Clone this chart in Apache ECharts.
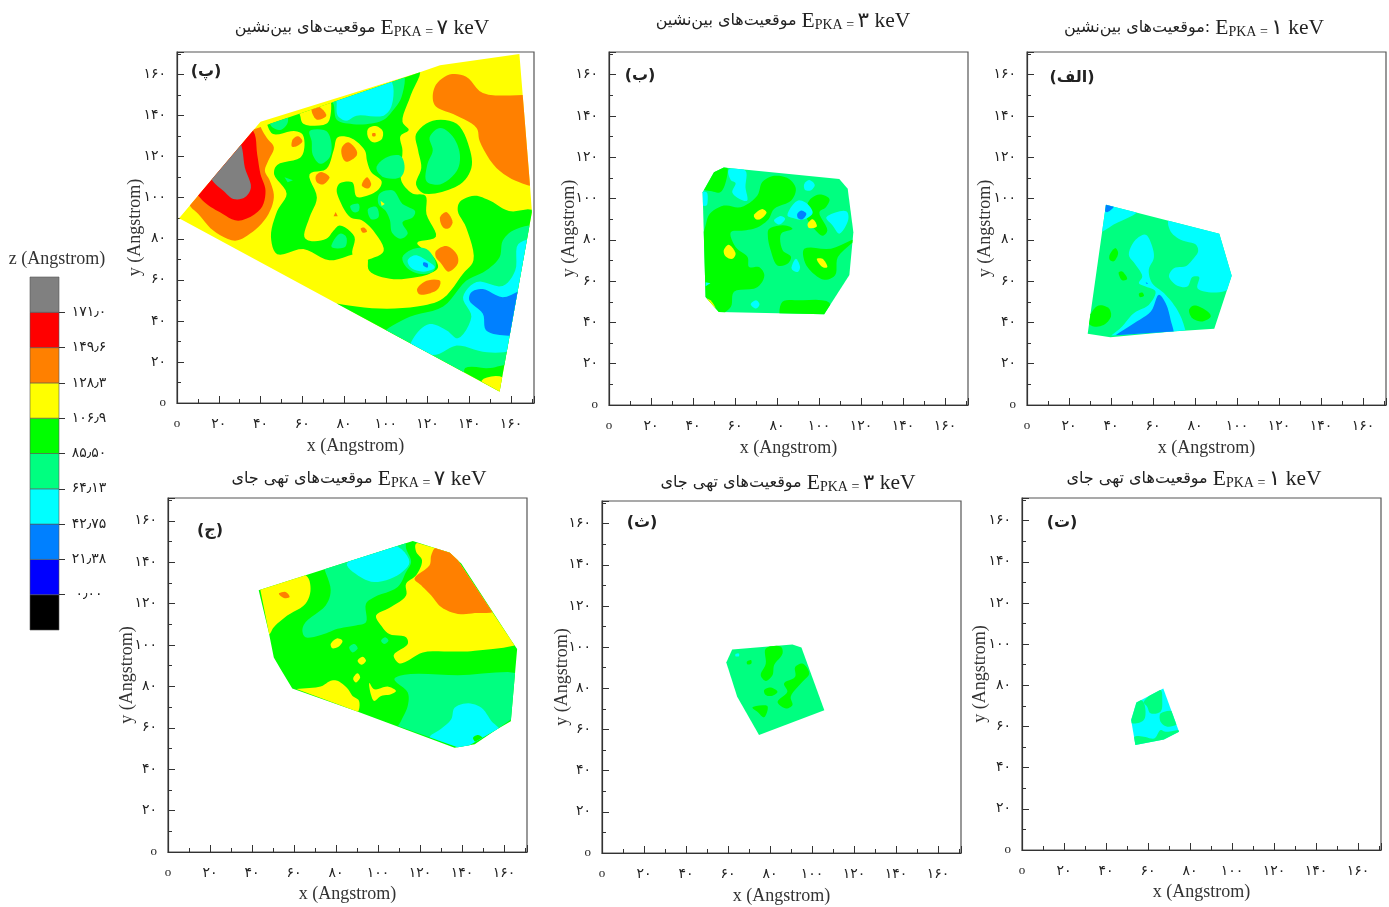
<!DOCTYPE html>
<html><head><meta charset="utf-8">
<style>html,body{margin:0;padding:0;background:#fff}#c{width:1389px;height:907px}</style>
<script src="https://cdn.jsdelivr.net/npm/echarts@6/dist/echarts.min.js"></script>
</head><body><div id="c"></div>
<script>
// ---------- value scale and labels ----------
const levelNames = ['black','blue','azure','cyan','spring','green','yellow','orange','red','gray'];
const levelColors = ['#000000','#0000ff','#0080ff','#00ffff','#00ff80','#00ff00','#ffff00','#ff8000','#ff0000','#808080'];
const zValues = [0,21.375,42.75,64.125,85.5,106.875,128.25,149.625,171];
const zTicks = ['۰٫۰۰','۲۱٫۳۸','۴۲٫۷۵','۶۴٫۱۳','۸۵٫۵۰','۱۰۶٫۹','۱۲۸٫۳','۱۴۹٫۶','۱۷۱٫۰'];
const axisTicks = ['o','۲۰','۴۰','۶۰','۸۰','۱۰۰','۱۲۰','۱۴۰','۱۶۰'];
const interstitial = 'موقعیت‌های بین‌نشین';
const vacancy = 'موقعیت‌های تهی جای';

// ---------- panel (پ) 7 keV interstitials ----------
const hullP = [[1,90],[40,137],[116,161],[126,164.5],[164,170],[169,107],[170,93],[154.5,5.5],[76.5,48.5]];
const regionsP = [
 ['orange',[[39.7,135.8],[42.9,129.3],[46.4,124.5],[43.7,118],[42.1,113.1],[44.5,108.2],[46.4,100.2],[42.9,90.5],[34.9,82.4],[27.8,79.1],[17.4,84],[10.2,92.1],[6.2,96.1],[-0.2,111.5],[28.5,147],[39.7,143.9]]],
 ['red',[[36.5,132.5],[38.4,121.2],[40,111.5],[42.4,103.4],[40,94.5],[29.3,88.8],[20.6,92.9],[14.2,96.9],[10.2,101],[4.6,108.3],[27,139]]],
 ['gray',[[30.9,125.2],[32.5,114.7],[35.4,105],[32.5,100.2],[27,99.4],[22.2,103.4],[17,108.3],[12.6,119.6],[27,134]]],
 ['green',[[43,139],[116,162.5],[112,150],[108,137],[111,133],[107,130],[108,123],[107,111.5],[108,107],[113,102],[119,101],[119.5,92],[124,81],[115,78],[123,71],[125,66],[121,63],[113,61],[102,60.5],[92,64.5],[91,71],[86,72.5],[73,69.5],[60.5,75],[48,72.5],[45,81],[48,93.5],[52.5,102],[46.5,111.5],[48,116],[59,119.5],[61,124.5],[60,131],[56,132.5],[46,131],[43,136.5]]],
 ['yellow',[[58,144.5],[72.5,149.5],[73.5,140],[71.5,136],[60.5,136],[59,140]]],
 ['yellow',[[77,129.5],[83.5,129],[90,123],[91,118],[93,112.5],[98,108],[96.5,104],[91,101],[86,100.5],[84,107.5],[78,107],[76.5,104],[78,98.5],[83,90.5],[88.5,89],[94,84],[99,74],[92,70],[87.5,69],[84,72.5],[85,81],[78,86.5],[75,84],[71.5,80],[63.5,79],[61,81],[63.5,90.5],[67,100],[63.5,111.5],[71.5,114],[75,123]]],
 ['spring',[[44.5,137],[52.5,140],[53,136.5],[49.5,133],[45.5,134.5]]],
 ['spring',[[73,149.5],[108,161],[107.5,149],[103,142],[99,138],[92,136],[83,136],[76.5,138],[75,145.5]]],
 ['cyan',[[77,149.5],[102,157.5],[103,145.5],[99,140],[86,140],[81,137.5],[77,140],[76.5,145.5]]],
 ['spring',[[63.5,132.5],[71.5,132.5],[74,126],[73,119.5],[68.5,116.5],[65,121],[64.5,127.5]]],
 ['spring',[[95.5,114.5],[100,119.5],[107,120.5],[109,114.5],[107,110],[99,110]]],
 ['green',[[114.5,131],[122.5,137.5],[134,136],[140,124.5],[141,114.5],[135.5,106.5],[118.5,102],[114.5,106.5],[117,114.5],[115.5,123]]],
 ['spring',[[121,129.5],[126,134],[132,130],[135.5,121],[134,113],[126,106.5],[119.5,108],[120,116.5],[122.5,123]]],
 ['yellow',[[91.5,133.5],[95,135],[98.5,132.5],[98,128.5],[94,127],[91.5,129.5]]],
 ['orange',[[93.6,131.4],[95,131.4],[95,130],[93.6,130]]],
 ['spring',[[97,102],[103.5,103.5],[108,97],[114,93.5],[113,90.5],[108,88],[110.5,82.5],[107,80],[103,83],[102,89],[100,93.5],[96.5,97]]],
 ['spring',[[83,96],[87,97],[87,93.5],[84.5,93]]],
 ['spring',[[91.5,94.5],[95.5,95.5],[96.5,90.5],[93,89.5]]],
 ['yellow',[[97.5,98.5],[99.5,97],[98,96]]],
 ['spring',[[74,76],[78,82.5],[81,81],[80.5,76]]],
 ['spring',[[51.5,110],[55.5,108.5],[53,107.5]]],
 ['orange',[[64.5,143],[67.5,144.5],[71.5,140],[67,138]]],
 ['orange',[[55.5,128.5],[58,130],[60,127.5],[57,125],[55,125]]],
 ['orange',[[79,124.5],[82,127],[86,123],[86,120.5],[81,117.5],[79,120.5]]],
 ['orange',[[66.5,110.5],[69,112.5],[73,110],[70,106.5],[67,107.5]]],
 ['orange',[[88.5,106],[91,110],[93,106.5],[91.5,104.5]]],
 ['orange',[[75,91],[76,93],[77,91]]],
 ['orange',[[88,85],[89.5,85.5],[91,83.5],[89,83]]],
 ['orange',[[126,90.5],[129,93],[132,88],[130,85],[127.5,85.5]]],
 ['orange',[[124,74],[129,76.5],[134,72.5],[134.5,68],[130,64],[126.5,68],[124,71]]],
 ['orange',[[115,55.5],[119.5,59.5],[126,59.5],[125,55.5],[119.5,53],[116,53]]],
 ['orange',[[122.5,148.5],[124,155],[130.5,160],[138.5,159],[146.5,151],[165.5,150],[172,150],[172,106.5],[164,107.5],[153,114.5],[145,127.5],[143.5,134],[134,140],[124,144.5]]],
 ['green',[[172,93],[159,93.5],[150,98.5],[142.5,101],[135.5,98],[134.5,93.5],[138.5,85.5],[142,69.5],[137,63],[127.5,51],[118,47.5],[97,46],[76.5,48.5],[71.5,50],[108,-2],[172,-2]]],
 ['yellow',[[146,11],[156,12.5],[158,3],[151,3]]],
 ['spring',[[172,85.5],[161,84],[156,79],[154.5,71],[148,64.5],[138.5,59.5],[127.5,47],[111.5,42],[100,35.5],[95.5,30.5],[137,11],[138,17],[150,17],[157,18.5],[172,18.5]]],
 ['cyan',[[172,79],[163.5,77.5],[162,64.5],[156,57],[143.5,59],[137,51.5],[141,42],[134.5,31.5],[129,35.5],[121,38.5],[114.5,33.5],[111.5,25.5],[124,23.5],[134,28],[146.5,25],[158.5,25],[172,30.5]]],
 ['azure',[[167,55],[156,51.5],[146.5,55.5],[141,54],[140,50],[146.5,43.5],[148,35.5],[156,33],[164,34]]],
 ['spring',[[108,71],[113,75],[119.5,75],[124,68],[122.5,64],[116,63],[110,66]]],
 ['cyan',[[110.5,69.5],[114,72],[119.5,69.5],[123.5,66],[118,64],[112,66]]],
 ['azure',[[118,68.5],[120,68],[120,66],[118,67]]]
];

// ---------- panel (ب) 3 keV interstitials ----------
const hullB = [[54.7,115],[109.7,109.5],[113.7,104.7],[116.4,83.7],[114.5,63],[102.5,44],[52.3,45],[46,52.3],[44.6,103],[50,112.7]];
const regionsB = [
 ['green',[[43.5,107],[50,116],[56,116],[55.8,108.7],[53,103],[49,103.5],[44.3,104.7]]],
 ['cyan',[[57,114],[65,113.5],[65,105.5],[65.8,99],[62.7,99.5],[58.7,103],[60.3,107.5],[58,109]]],
 ['cyan',[[44,103],[46.5,103],[47,99],[46.4,96.6],[44,97]]],
 ['green',[[48,92.6],[54.7,96.6],[62.7,95.8],[70.6,101.4],[73,108],[78.6,111],[85.8,109.5],[89,104.7],[86.7,99],[78.6,95],[76,90],[70.6,86],[64.3,84.5],[58,83.7],[60.3,76.5],[66,71.7],[66.7,66.8],[71.5,66.8],[74,62.8],[70.6,57],[59.5,54.8],[58,47.5],[52.3,44],[45.5,51.5],[43.5,75],[46,87]]],
 ['green',[[76.2,85.3],[84,87],[87.4,85.3],[82,83],[82.7,75],[86.7,71.7],[85,68.4],[80.2,67.6],[77,75],[75.7,81.3]]],
 ['green',[[95.3,99],[100.2,102],[105,99.8],[103.3,95.8],[100.2,93.4],[104,84.5],[101.8,82],[97.8,85.3],[93.8,91.8]]],
 ['green',[[93,75.7],[105.7,75.7],[117.7,80.5],[109,71.7],[107.7,62.8],[102.5,60.7],[96,65],[93,70]]],
 ['green',[[82.6,50],[90,50.7],[105,49.5],[103,42],[82,42]]],
 ['cyan',[[93,107],[95.3,109],[98,106.6],[96,103.9],[93.3,104.3]]],
 ['cyan',[[85,91.8],[89.8,99],[94,97.8],[97,93],[92.5,89.8],[87.7,90.6]]],
 ['azure',[[89.7,92.6],[91.6,94.2],[94,92.6],[92,89.9],[90,90.6]]],
 ['cyan',[[78.6,89.4],[81.8,91.5],[83.9,90.2],[81,87.4]]],
 ['cyan',[[103.5,90.9],[113,93.9],[114,90],[109.7,83],[106.5,87]]],
 ['cyan',[[89,70.8],[91,66.8],[89.8,64.4],[87,66]]],
 ['cyan',[[67.5,48.8],[70,50.7],[71.7,48.8],[70,46.7]]],
 ['cyan',[[46,59.5],[48.3,59],[46,57.5]]],
 ['yellow',[[69,91.8],[73,94.9],[75,93.3],[72,90],[70,90]]],
 ['yellow',[[54.7,75],[57,77.6],[60.3,73.3],[58.7,70.8],[55.5,72]]],
 ['yellow',[[94.6,87.7],[97,90],[99,86.5],[95.3,85.7]]],
 ['yellow',[[99,70.8],[101.7,70.8],[104,66.8],[101.7,66.8]]],
 ['yellow',[[46,51.6],[48.3,50.7],[50.7,46.7],[48.3,47.5]]]
];

// ---------- panel (الف) 1 keV interstitials ----------
const hullA = [[37.6,97],[91.6,83],[97.5,62.6],[89.2,36.9],[69.2,35.6],[39.7,32.8],[28.9,34.5]];
const regionsA = [
 ['cyan',[[36.5,98.7],[52.5,93.9],[41.3,87.4],[35.7,84],[34,84]]],
 ['azure',[[37.3,98],[41.3,96.3],[38.1,93.4],[36.5,94.7]]],
 ['cyan',[[67.6,89.8],[92.3,84.1],[100.3,62.6],[95.5,55.8],[87.6,54.5],[81.2,56.6],[82,62],[78.8,62],[76.4,57.4],[71.6,57.8],[67.6,62.3],[70,66.3],[75.6,67.2],[78.8,70.4],[81.5,74.4],[80.4,77.7],[73.2,80],[68.4,84.1]]],
 ['cyan',[[48.5,72.8],[51.7,80],[56.5,82.5],[59.6,76.9],[60.4,71.2],[58,65.5],[59.6,59],[65.2,54.2],[70,48.5],[73.2,42.9],[75.6,35.6],[76.4,31.6],[38,30.7],[45.3,38],[50.9,44.5],[58,48.5],[61.2,55],[56.5,57.4],[53.3,59],[54.9,62.3],[51.7,68]]],
 ['azure',[[62.8,53.4],[66,49.4],[68.4,41.3],[69.5,33],[57.3,32],[40,31.5],[51,39.6],[59,45.3]]],
 ['green',[[30.1,43.7],[34.1,48.2],[38.9,46.9],[40,42.9],[36.5,38.8],[31.7,38],[29.3,39.6]]],
 ['green',[[77.2,46.1],[79.6,48.2],[86,45.3],[87.5,42.9],[83.6,40.5],[78.8,42]]],
 ['green',[[39.4,72.8],[42.1,76],[43.4,73.6],[41.3,69.6],[39.4,70.4]]],
 ['green',[[43.7,64.2],[45.3,64.7],[47.7,61],[45.3,60.4]]],
 ['green',[[53.3,53.9],[54.9,54.5],[55.7,52.9],[53.8,52.3]]],
 ['azure',[[56.5,59.5],[57.7,59],[57,58.6]]]
];

// ---------- panel (ج) 7 keV vacancies ----------
const hullJ = [[43.2,126.4],[116.6,150.2],[127.8,146.6],[134.1,144.7],[139.7,139.3],[163.6,102.1],[166.3,98],[163.3,63.2],[156.5,59.2],[146.1,52],[136.5,50.4],[89.5,68.1],[59.2,79],[53.6,88.4],[50.4,94],[48,106.2]];
const regionsJ = [
 ['yellow',[[40.9,128.8],[65.5,133.7],[67.9,127.2],[65.5,119.9],[56.8,114.2],[50.4,108.6],[48,104.9],[44,104.5]]],
 ['orange',[[52.8,124.8],[56,125.6],[57.9,123.2],[55.2,122.7]]],
 ['yellow',[[118.2,149],[130,147.4],[146.1,132],[170,102.9],[146.1,97.2],[136.5,96.8],[121.4,96.4],[114.2,92.4],[110.2,91.1],[107.5,95.1],[114.2,100.5],[113.4,103.7],[105.4,105.3],[101.5,109.4],[99.1,114.2],[106.2,118.3],[113.4,123.9],[113.4,129.6],[118.2,133.7],[121,140.9],[118.2,145]]],
 ['orange',[[117.4,132],[124.6,138.5],[125.4,143.4],[127.8,147.4],[135,146.6],[141.3,140.1],[155.7,116.7],[146.1,115.4],[138.1,115],[130.1,118.3],[125.4,123.9],[120.6,128.8]]],
 ['spring',[[74.3,137.7],[77.5,126.4],[75.1,119.1],[65.5,111],[64,107],[65.5,103.7],[74.3,105.3],[80.7,107.8],[89.5,109.4],[94.3,111],[94.3,119.9],[98.2,123.1],[109.4,128],[113.4,135.3],[115.8,140.1],[113.4,146.6],[112.6,151.5],[74.3,140]]],
 ['cyan',[[85.2,139.3],[107.8,148.2],[115,140.1],[109.4,133.7],[98.2,130.4],[90.3,133.7]]],
 ['yellow',[[77.5,100.5],[80.7,103.2],[83.1,102],[81.5,99.4],[78.3,98.4]]],
 ['yellow',[[90.3,92.4],[92.7,94.3],[94.3,92.4],[92.2,90.5]]],
 ['yellow',[[88.2,83.8],[90.3,86.4],[91.5,84.3],[89.5,81.9]]],
 ['yellow',[[95.9,81.6],[98.2,78.6],[104.6,79.9],[108.6,77.8],[106.2,76.2],[101.5,75.4],[98.2,73],[96.6,76.2]]],
 ['yellow',[[57.6,77.8],[72.7,79.9],[77.5,82.7],[80.7,82.7],[85.5,79],[87.9,75.4],[91,73],[89.5,66.5],[58.4,75.4]]],
 ['spring',[[86.3,98.9],[88.7,100.5],[90.3,98.4],[87.9,96.4]]],
 ['spring',[[101.5,102.1],[103.4,103.7],[105,102.1],[103,100.5]]],
 ['spring',[[107.8,83.5],[112.6,85.6],[138.1,85.4],[170,84.3],[166.8,56],[136.5,47.9],[109.4,59.2],[111,63.3],[114.2,70.6],[114.2,77]]],
 ['cyan',[[124.6,55.2],[130.1,59.5],[134.9,64.1],[136.5,69.7],[143,71.8],[149.3,69.7],[154,63.3],[158,58.4],[146.1,47.9],[133.4,47.9]]],
 ['green',[[145.3,55.2],[147.7,56.5],[150.1,54.7],[146.9,52.8]]]
];

// ---------- panel (ث) 3 keV vacancies ----------
const hullS = [[62,98.9],[90.7,101.3],[95,99.8],[105.9,69.4],[74.8,57.3],[64.4,75.9],[59.2,92.6]];
const regionsS = [
 ['green',[[78,99.4],[85.2,100.2],[86,96.9],[82,91.3],[81.2,86.4],[78,83.6],[75.6,86.4],[78,91.9]]],
 ['green',[[92,90.3],[95.5,92],[98.7,87.2],[94.7,82.4],[89.9,75.9],[90.7,71.8],[87.6,70.2],[83.6,73.4],[88.3,78.3],[86.7,82.4],[92,85.6]]],
 ['green',[[77.2,79.1],[80.4,80.4],[83.6,78.3],[81.2,76.4],[78,76.7]]],
 ['green',[[71.6,70.7],[78.8,71.4],[77.2,65.9],[74,68.6]]],
 ['green',[[69,92.9],[71,93.7],[71.1,92],[69.2,91.7]]],
 ['cyan',[[63.6,96.6],[65.2,96.9],[65.2,95.6],[63.6,95.6]]]
];

// ---------- panel (ت) 1 keV vacancies ----------
const hullT = [[67.3,78.5],[74.8,57.4],[67.6,53.7],[54,51],[52,63.1],[54.5,71.7]];
const regionsT = [
 ['spring',[[53.3,72],[57.3,72.5],[58.8,68],[58,63.1],[54,61.5],[51,62.3]]],
 ['spring',[[58,72],[66,77.7],[66.8,72.8],[66,67.2],[61.2,66.4],[59.6,69.6]]],
 ['spring',[[66,66.3],[72.4,67.2],[74,61.5],[69.2,59.9],[66,62.3]]],
 ['spring',[[68.4,57.4],[76.4,58.3],[68.4,51.8],[53.3,49.4],[53.6,55],[58,55],[63,54.2],[66,58.3]]]
];

// ---------- layout of the six plots ----------
const panels = [
 {hull:hullP,base:'yellow',regions:regionsP,box:[177,52,357,351],mark:'(پ)',markAt:[201,70],head:interstitial,digit:'۷',headAt:[357,26],ny:33,nx:34},
 {hull:hullB,base:'spring',regions:regionsB,box:[609,52,359,353],mark:'(ب)',markAt:[635,74],head:interstitial,digit:'۳',headAt:[778,19],ny:31,nx:34},
 {hull:hullA,base:'spring',regions:regionsA,box:[1027,52,359,353],mark:'(الف)',markAt:[1067,76],head:interstitial+':',digit:'۱',headAt:[1189,26],ny:33,nx:34},
 {hull:hullJ,base:'green',regions:regionsJ,box:[168,498,359,354],mark:'(ج)',markAt:[205,529],head:vacancy,digit:'۷',headAt:[354,477],ny:32,nx:33},
 {hull:hullS,base:'spring',regions:regionsS,box:[602,501,359,352],mark:'(ث)',markAt:[637,521],head:vacancy,digit:'۳',headAt:[783,481],ny:31,nx:34},
 {hull:hullT,base:'cyan',regions:regionsT,box:[1022,498,359,352],mark:'(ت)',markAt:[1057,521],head:vacancy,digit:'۱',headAt:[1189,477],ny:33,nx:33}
];
const axisMax = 171;
const serif = '"Liberation Serif","DejaVu Sans",serif';
const naskh = '"DejaVu Sans","Liberation Serif",sans-serif';

// smooth a closed outline through its read-off points (centripetal spline, no overshoot on long edges)
function soften(pts){
  const n=pts.length,out=[];
  if(n<4)return pts;
  const gap=(p,q)=>Math.max(Math.sqrt(Math.hypot(p[0]-q[0],p[1]-q[1])),1e-3);
  const mix=(p,q,a,b,t)=>[0,1].map(k=>((b-t)*p[k]+(t-a)*q[k])/(b-a));
  for(let i=0;i<n;i++){
    const p0=pts[(i-1+n)%n],p1=pts[i],p2=pts[(i+1)%n],p3=pts[(i+2)%n];
    const t0=0,t1=t0+gap(p0,p1),t2=t1+gap(p1,p2),t3=t2+gap(p2,p3);
    for(let s=0;s<6;s++){
      const t=t1+(t2-t1)*s/6;
      const a1=mix(p0,p1,t0,t1,t),a2=mix(p1,p2,t1,t2,t),a3=mix(p2,p3,t2,t3,t);
      const b1=mix(a1,a2,t0,t2,t),b2=mix(a2,a3,t1,t3,t);
      out.push(mix(b1,b2,t1,t2,t));
    }
  }
  return out;
}
// keep the part of an outline that falls inside the convex sampled area
function clipToHull(pts,hull){
  let area=0;hull.forEach((p,i)=>{const q=hull[(i+1)%hull.length];area+=p[0]*q[1]-q[0]*p[1];});
  const s=area>0?1:-1;
  hull.forEach((a,i)=>{
    const b=hull[(i+1)%hull.length],res=[];
    const side=p=>s*((b[0]-a[0])*(p[1]-a[1])-(b[1]-a[1])*(p[0]-a[0]));
    pts.forEach((p,j)=>{
      const q=pts[(j+1)%pts.length],sp=side(p),sq=side(q);
      if(sp>=0)res.push(p);
      if((sp>=0)!==(sq>=0)){const t=sp/(sp-sq);res.push([p[0]+t*(q[0]-p[0]),p[1]+t*(q[1]-p[1])]);}
    });
    pts=res;
  });
  return pts;
}
const colorOf = n => levelColors[levelNames.indexOf(n)];

const grids=[],xAxes=[],yAxes=[],series=[],titles=[];
const tickFmt = v => v===0 ? '{z|'+axisTicks[0]+'}' : ((v%20===0 && v/20<axisTicks.length) ? axisTicks[v/20] : '');
panels.forEach((pn,i)=>{
  grids.push({left:pn.box[0],top:pn.box[1],width:pn.box[2],height:pn.box[3],show:true,borderColor:'#555',borderWidth:1.2,backgroundColor:'#fff'});
  const common={type:'value',gridIndex:i,min:0,max:axisMax,interval:20,nameLocation:'middle',nameMoveOverlap:false,splitLine:{show:false},
    axisLine:{show:true,onZero:false,lineStyle:{color:'#333',width:1.2}},
    axisTick:{show:true,inside:true,length:7,lineStyle:{color:'#333'}},
    minorTick:{show:true,splitNumber:2,length:4,lineStyle:{color:'#333'}},
    nameTextStyle:{fontFamily:serif,fontSize:18,color:'#333'},
    axisLabel:{formatter:tickFmt,margin:11,fontFamily:naskh,fontSize:14,color:'#222',hideOverlap:false,showMinLabel:true,showMaxLabel:false,
      rich:{z:{fontFamily:serif,fontSize:13,color:'#222'}}}};
  xAxes.push(Object.assign({},common,{name:'x (Angstrom)',nameGap:pn.nx,axisLabel:Object.assign({},common.axisLabel,{margin:14})}));
  yAxes.push(Object.assign({},common,{name:'y (Angstrom)',nameGap:pn.ny}));
  const items=[[pn.base,pn.hull,false]].concat(pn.regions.map(r=>[r[0],r[1],true]));
  series.push({type:'custom',xAxisIndex:i,yAxisIndex:i,clip:true,silent:true,coordinateSystem:'cartesian2d',
    data:items.map((_,k)=>[k,k]),
    renderItem:(params,api)=>{
      const it=items[params.dataIndex];
      const pts=it[2]?clipToHull(soften(it[1]),pn.hull):it[1];
      if(pts.length<3)return null;
      return {type:'polygon',shape:{points:pts.map(p=>api.coord(p))},style:{fill:colorOf(it[0])}};
    }});
  titles.push({left:pn.headAt[0],top:pn.headAt[1]-14,textAlign:'center',
    text:`{p|${pn.head} }{e|E}{s|PKA = }{e|${pn.digit} keV}`,
    textStyle:{fontWeight:'normal',rich:{p:{fontFamily:naskh,fontSize:16,color:'#222'},e:{fontFamily:serif,fontSize:21.5,color:'#222'},s:{fontFamily:serif,fontSize:14,color:'#222',verticalAlign:'bottom'}}}});
  titles.push({left:pn.markAt[0],top:pn.markAt[1]-11,textAlign:'center',text:pn.mark,
    textStyle:{fontFamily:naskh,fontSize:16,fontWeight:'bold',color:'#222'}});
});

// colour scale
const scaleStep = 21.375;
const gi = panels.length;
grids.push({left:30,top:277,width:29,height:353,show:false});
xAxes.push({type:'value',gridIndex:gi,min:0,max:1,show:false});
yAxes.push({type:'value',gridIndex:gi,position:'right',min:-scaleStep,max:scaleStep*9,interval:scaleStep,splitLine:{show:false},
  axisLine:{show:false,onZero:false},axisTick:{show:true,length:6,customValues:zValues,lineStyle:{color:'#333'}},
  axisLabel:{align:'center',margin:30,fontFamily:naskh,fontSize:14,color:'#222',customValues:zValues,
    formatter:v=>zTicks[zValues.indexOf(v)]||''}});
series.push({type:'custom',xAxisIndex:gi,yAxisIndex:gi,silent:true,data:levelColors.map((c,k)=>[k,k]),
  renderItem:(params,api)=>{
    const k=params.dataIndex,a=api.coord([0,(k-1)*scaleStep]),b=api.coord([1,k*scaleStep]);
    return {type:'rect',shape:{x:a[0],y:b[1],width:b[0]-a[0],height:a[1]-b[1]},style:{fill:levelColors[k],stroke:'#555',lineWidth:.6}};
  }});
titles.push({left:52,top:245,textAlign:'center',text:'z (Angstrom)',textStyle:{fontFamily:serif,fontSize:18,fontWeight:'normal',color:'#333'}});

echarts.init(document.getElementById('c'),null,{renderer:'canvas'}).setOption({
  animation:false,backgroundColor:'#fff',title:titles,grid:grids,xAxis:xAxes,yAxis:yAxes,series:series});
</script></body></html>
